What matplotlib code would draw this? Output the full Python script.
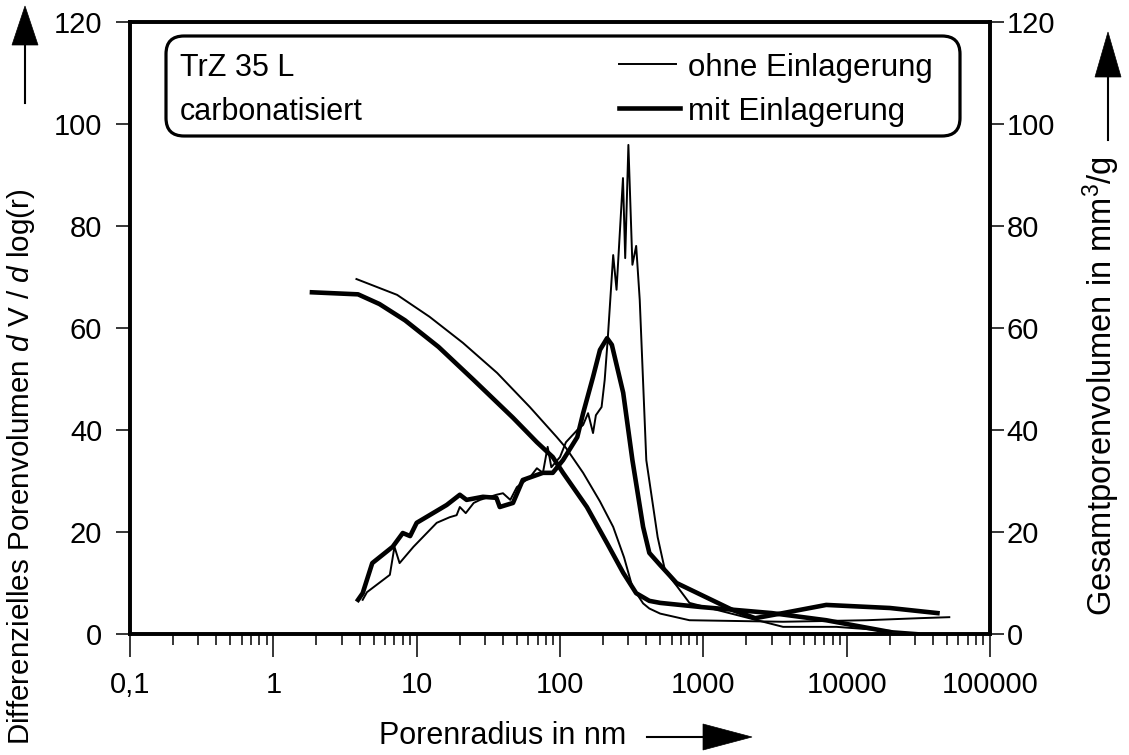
import matplotlib
matplotlib.use("Agg")
import matplotlib.pyplot as plt
from matplotlib.transforms import IdentityTransform
from matplotlib.patches import FancyBboxPatch, Polygon
from matplotlib.lines import Line2D
from matplotlib.ticker import LogLocator, NullFormatter, FixedLocator

plt.rcParams['font.family'] = ['Liberation Sans', 'DejaVu Sans']
plt.rcParams['mathtext.fontset'] = 'custom'
plt.rcParams['mathtext.rm'] = 'Liberation Sans'
plt.rcParams['mathtext.it'] = 'Liberation Sans:italic'

# ---------------- data ----------------
# differential pore volume, without storage (thin)
r_diff_ohne = [4.2, 4.5, 6.5, 7.0, 7.6, 9.5, 13.8, 17, 19, 20, 22, 25, 27.7, 36, 40, 45, 50,
               62, 69, 76, 82, 87, 100, 110, 132, 145, 157, 170, 178, 195, 205, 215, 235,
               248, 275, 285, 300, 320, 340, 360, 400, 480, 540, 800, 3600, 8500, 31600]
diff_ohne = [6.7, 8.2, 11.6, 17.1, 13.9, 17.1, 21.8, 22.9, 23.3, 24.9, 23.7, 25.7, 26.3, 27.3,
             27.6, 26.3, 28.8, 30.8, 32.5, 31.6, 36.7, 32.7, 34.7, 37.6, 40.0, 41.0, 43.3, 39.4,
             42.9, 44.5, 49.8, 57.6, 74.3, 67.5, 89.4, 73.7, 95.9, 72.4, 76.1, 65.5, 34.1, 19.0,
             12.5, 6.1, 1.4, 1.4, 0.2]

# differential pore volume, with storage (thick)
r_diff_mit = [3.9, 4.2, 4.9, 6.8, 8.0, 9.0, 10.0, 12.3, 16.2, 20, 22.3, 29, 36, 38, 47, 55, 76,
              89, 105, 132, 145, 170, 190, 213, 230, 276, 320, 380, 420, 500, 560, 650, 1600,
              2300, 3600, 7200, 20000, 43000]
diff_mit = [6.7, 8.0, 13.9, 17.1, 19.8, 19.2, 21.8, 23.3, 25.3, 27.3, 26.3, 26.9, 26.7, 24.9,
            25.7, 30.2, 31.6, 31.6, 34.1, 38.6, 43.3, 50.4, 55.7, 58.0, 56.7, 47.3, 34.1, 21.0,
            15.9, 13.5, 12.0, 10.0, 4.7, 3.1, 4.1, 5.7, 5.1, 4.1]

# total pore volume, without storage (thin)
r_ges_ohne = [3.8, 7.3, 12.3, 21, 36.4, 61.6, 95, 110, 145, 190, 235, 280, 320, 380, 420, 500,
              800, 3600, 13800, 32000, 52000]
ges_ohne = [69.6, 66.5, 62.2, 57.1, 51.2, 44.5, 38.6, 36.5, 31.6, 26.0, 21.0, 15.0, 9.2, 6.0,
            5.0, 4.0, 2.7, 2.4, 2.7, 3.1, 3.3]

# total pore volume, with storage (thick)
r_ges_mit = [1.86, 3.9, 5.5, 8.3, 14.2, 25, 47, 69, 89, 105, 154, 213, 276, 340, 420, 500, 950,
             1700, 3000, 7200, 20000]
ges_mit = [67.0, 66.6, 64.7, 61.5, 56.3, 49.8, 42.4, 37.6, 34.7, 31.6, 24.9, 17.8, 12.0, 8.0,
           6.5, 6.1, 5.3, 4.7, 4.1, 2.7, 0.4]

x_ticks = [0.1, 1, 10, 100, 1000, 10000, 100000]
x_tick_labels = ['0,1', '1', '10', '100', '1000', '10000', '100000']
y_ticks = [0, 20, 40, 60, 80, 100, 120]

# ---------------- figure ----------------
W, H = 1129, 755
fig = plt.figure(figsize=(W / 100, H / 100), dpi=100)
ax = fig.add_axes([130 / W, 1 - 634 / H, 860 / W, 612 / H])
ax2 = ax.twinx()

thin, thick = 1.4, 3.3
ax.plot(r_diff_ohne, diff_ohne, color='black', lw=thin, solid_joinstyle='round')
ax.plot(r_diff_mit, diff_mit, color='black', lw=thick, solid_joinstyle='round')
ax2.plot(r_ges_ohne, ges_ohne, color='black', lw=thin, solid_joinstyle='round')
ax2.plot(r_ges_mit, ges_mit, color='black', lw=thick, solid_joinstyle='round')

for a in (ax, ax2):
    a.set_xscale('log')
    a.set_xlim(0.1, 100000)
    a.set_ylim(0, 120)
    a.set_yticks(y_ticks)
    for s in a.spines.values():
        s.set_linewidth(2.6)

ax.xaxis.set_major_locator(FixedLocator(x_ticks))
ax.set_xticklabels(x_tick_labels)
ax.xaxis.set_minor_locator(LogLocator(base=10, subs=range(2, 10), numticks=50))
ax.xaxis.set_minor_formatter(NullFormatter())
ax.tick_params(axis='x', which='major', direction='out', length=16.5, width=1.1,
               labelsize=21, pad=10)
ax.tick_params(axis='x', which='minor', direction='out', length=8, width=1.1)
ax.tick_params(axis='y', direction='out', length=10, width=1.1, labelsize=21, pad=10)
ax2.tick_params(axis='y', direction='out', length=10, width=1.1, labelsize=21, pad=2)

T = IdentityTransform()

def P(x, y):
    return (x, H - y)

# axis labels
fig.text(*P(21, 467), r'Differenzielles Porenvolumen $\mathit{d}$ V / $\mathit{d}$ log(r)',
         rotation=90, ha='center', va='center', fontsize=21.3, transform=T)
fig.text(*P(1101, 386), r'Gesamtporenvolumen in mm$^3$/g',
         rotation=90, ha='center', va='center', fontsize=23.5, transform=T)
fig.text(*P(503, 736), 'Porenradius in nm', ha='center', va='center', fontsize=22,
         transform=T)

# arrows
def up_arrow(xc, tip, base, end, hw=13):
    fig.add_artist(Polygon([P(xc - hw, base), P(xc + hw, base), P(xc, tip)], closed=True,
                           facecolor='black', edgecolor='black', lw=0.5, transform=T))
    fig.add_artist(Line2D([xc, xc], [H - base, H - end], color='black', lw=1.5, transform=T))

up_arrow(25, 6, 45, 103)
up_arrow(1108, 32, 77, 140)
# right-pointing arrow at x-label
fig.add_artist(Line2D([647, 705], [H - 737, H - 737], color='black', lw=1.5, transform=T))
fig.add_artist(Polygon([P(703, 724), P(703, 750), P(752, 737)], closed=True,
                       facecolor='black', edgecolor='black', lw=0.5, transform=T))

# legend box
bx0, by0, bx1, by1 = 166, 36, 960, 136
box = FancyBboxPatch((bx0 + 18, H - by1 + 18), (bx1 - bx0) - 36, (by1 - by0) - 36,
                     boxstyle='round,pad=18', facecolor='white', edgecolor='black',
                     lw=2.3, transform=T, zorder=5)
fig.add_artist(box)
fig.text(*P(180, 76), 'TrZ 35 L', fontsize=22, ha='left', va='baseline', transform=T,
         zorder=6)
fig.text(*P(180, 120), 'carbonatisiert', fontsize=22, ha='left', va='baseline',
         transform=T, zorder=6)
fig.add_artist(Line2D([619, 676], [H - 64, H - 64], color='black', lw=thin, transform=T,
                      zorder=6))
fig.add_artist(Line2D([619, 680], [H - 108, H - 108], color='black', lw=thick, transform=T,
                      zorder=6))
fig.text(*P(688, 76), 'ohne Einlagerung', fontsize=22.5, ha='left', va='baseline',
         transform=T, zorder=6)
fig.text(*P(688, 120), 'mit Einlagerung', fontsize=22.5, ha='left', va='baseline',
         transform=T, zorder=6)

fig.savefig('out.png', dpi=100)
